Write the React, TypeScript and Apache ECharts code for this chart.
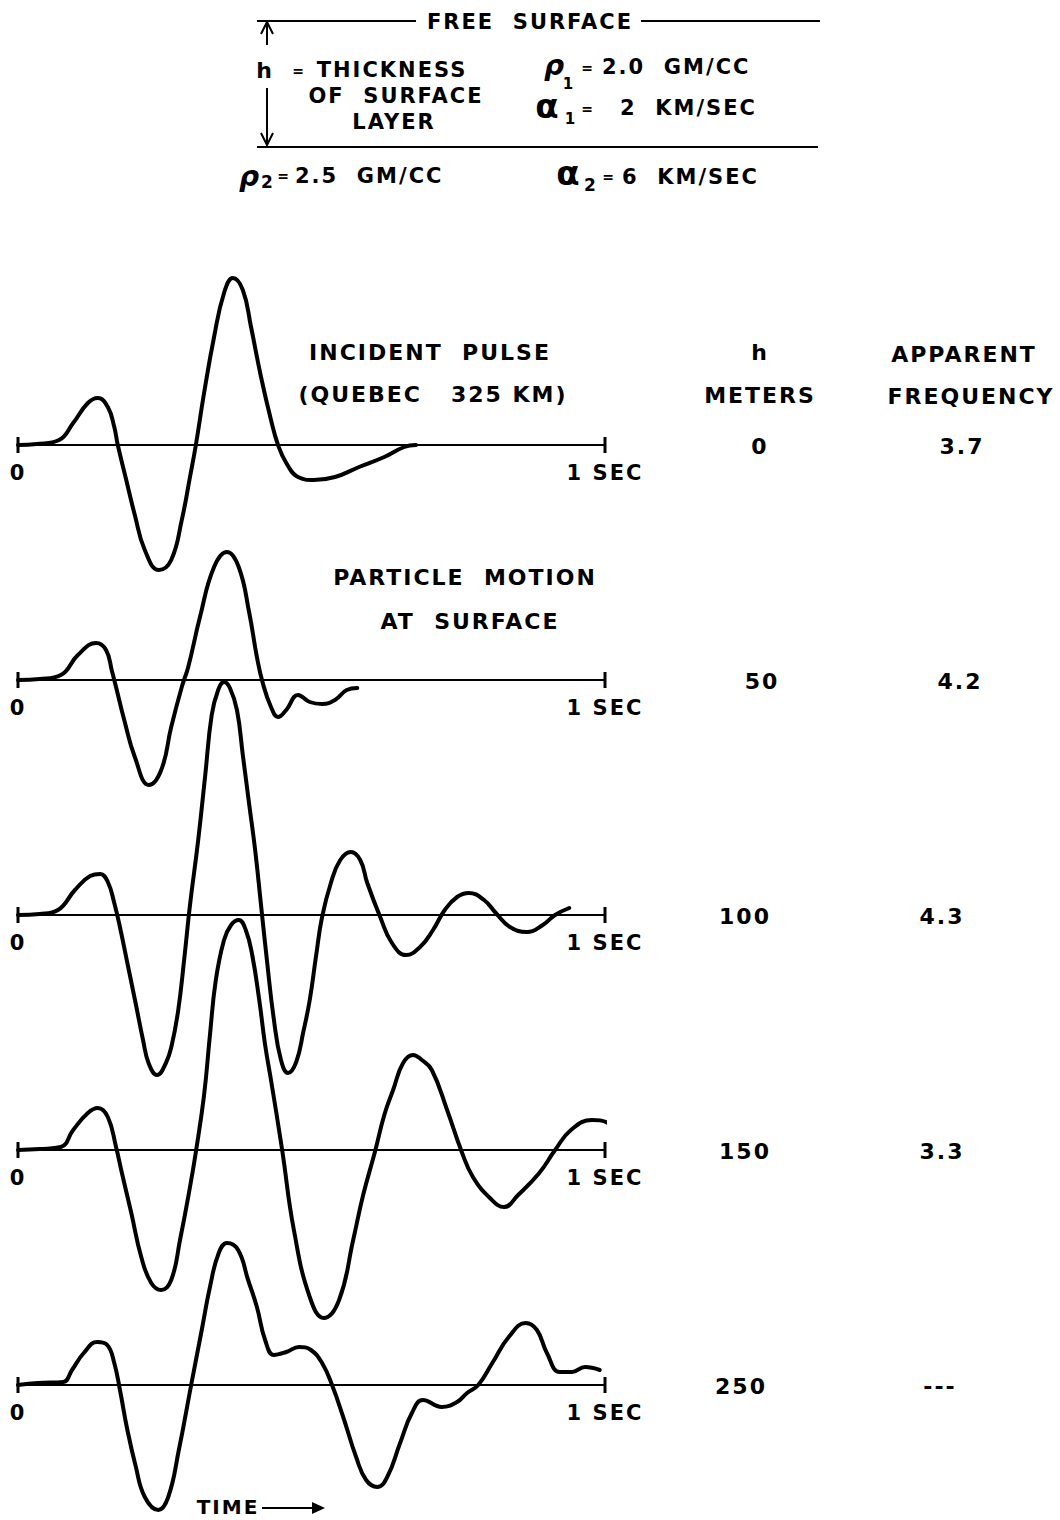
import React, { useEffect, useRef } from "react";
import * as echarts from "echarts";

// ---------------- DATA ----------------
// time in seconds, amplitude in arbitrary units
const timeTicks = [0, 1];
const tickLabels = ["0", "1 SEC"];
const thicknessMeters = ["0", "50", "100", "150", "250"];
const apparentFrequency = ["3.7", "4.2", "4.3", "3.3", "---"];

const incidentPulse: [number, number][] = [
  [0, 0], [0.032, 0.1], [0.07, 0.5], [0.094, 2.2], [0.119, 4.2], [0.136, 4.7], [0.153, 3.8],
  [0.164, 1.8], [0.17, 0], [0.184, -3.4], [0.199, -7.0], [0.216, -10.5], [0.24, -12.5],
  [0.261, -11.5], [0.279, -7.5], [0.293, -3.2], [0.303, 0], [0.317, 5.2], [0.334, 10.8],
  [0.351, 15.2], [0.366, 16.7], [0.383, 15.5], [0.397, 11.8], [0.414, 6.8], [0.431, 2.5],
  [0.443, 0], [0.457, -1.8], [0.477, -3.2], [0.504, -3.5], [0.54, -3.2], [0.581, -2.2],
  [0.624, -1.2], [0.658, -0.2], [0.678, 0],
];

const surface50: [number, number][] = [
  [0, 0], [0.037, 0.1], [0.073, 0.5], [0.102, 2.5], [0.133, 3.7], [0.15, 3.0], [0.16, 0.9],
  [0.167, -0.7], [0.181, -4.0], [0.199, -7.7], [0.223, -10.5], [0.244, -9.0], [0.261, -4.7],
  [0.279, -0.7], [0.29, 1.3], [0.31, 6.3], [0.334, 11.3], [0.356, 12.8], [0.376, 11.3],
  [0.394, 6.7], [0.407, 2.3], [0.417, -0.3], [0.431, -2.7], [0.443, -3.7], [0.457, -3.0],
  [0.477, -1.5], [0.497, -2.2], [0.518, -2.4], [0.54, -2.0], [0.56, -1.0], [0.578, -0.8],
];

const surface100: [number, number][] = [
  [0, 0], [0.037, 0.1], [0.068, 0.5], [0.097, 2.5], [0.123, 3.9], [0.14, 4.1], [0.153, 3.3],
  [0.164, 1.2], [0.174, -1.3], [0.187, -5.0], [0.201, -9.0], [0.213, -12.5], [0.223, -14.9],
  [0.237, -16.0], [0.252, -14.8], [0.262, -13.0], [0.273, -9.5], [0.283, -4.5], [0.293, 1.0],
  [0.307, 7.5], [0.319, 14.0], [0.33, 20.0], [0.341, 22.5], [0.351, 23.3], [0.361, 22.7],
  [0.373, 20.5], [0.383, 16.0], [0.394, 11.0], [0.404, 6.5], [0.414, 1.0], [0.424, -4.5],
  [0.436, -10.5], [0.448, -14.5], [0.46, -15.8], [0.474, -14.7], [0.486, -11.7], [0.497, -8.5],
  [0.508, -4.0], [0.518, -0.2], [0.533, 3.2], [0.549, 5.5], [0.567, 6.3], [0.583, 5.5],
  [0.595, 3.2], [0.617, -0.2], [0.637, -2.8], [0.661, -4.0], [0.685, -3.2], [0.707, -1.5],
  [0.727, 0.5], [0.748, 1.8], [0.768, 2.2], [0.794, 1.5], [0.814, 0.2], [0.838, -1.2],
  [0.867, -1.7], [0.894, -1.0], [0.915, 0], [0.939, 0.7],
];

const surface150: [number, number][] = [
  [0, 0], [0.037, 0.1], [0.073, 0.3], [0.094, 2.0], [0.119, 3.7], [0.136, 4.2], [0.153, 3.3],
  [0.167, 0.3], [0.177, -2.3], [0.193, -6.3], [0.21, -10.7], [0.227, -13.3], [0.244, -14.0],
  [0.261, -13.0], [0.276, -9.0], [0.293, -3.7], [0.303, -0.2], [0.317, 5.5], [0.327, 11.5],
  [0.337, 17.0], [0.351, 21.0], [0.363, 22.5], [0.376, 23.0], [0.388, 22.0], [0.399, 19.5],
  [0.411, 15.0], [0.421, 10.5], [0.431, 7.0], [0.45, 0], [0.47, -8.0], [0.497, -14.7],
  [0.521, -16.8], [0.547, -15.0], [0.571, -9.0], [0.588, -4.5], [0.608, -0.2], [0.624, 3.5],
  [0.639, 6.0], [0.656, 8.7], [0.673, 9.5], [0.688, 9.0], [0.705, 8.0], [0.731, 4.0],
  [0.756, -0.2], [0.775, -2.7], [0.804, -4.8], [0.828, -5.7], [0.852, -4.5], [0.888, -2.3],
  [0.915, 0], [0.942, 2.0], [0.978, 3.0], [1.005, 2.7], [1.019, 1.8],
];

const surface250: [number, number][] = [
  [0, 0], [0.034, 0.2], [0.077, 0.3], [0.092, 1.5], [0.112, 3.2], [0.135, 4.3], [0.152, 4.0],
  [0.164, 2.2], [0.174, -0.6], [0.186, -4.4], [0.2, -8.0], [0.216, -11.2], [0.239, -12.5],
  [0.256, -11.2], [0.274, -6.5], [0.295, 0], [0.313, 5.5], [0.327, 9.8], [0.342, 13.2],
  [0.356, 14.2], [0.375, 13.5], [0.392, 10.5], [0.407, 7.8], [0.421, 4.5], [0.436, 3.0],
  [0.457, 3.3], [0.479, 3.8], [0.499, 3.5], [0.518, 2.2], [0.535, 0], [0.554, -3.2],
  [0.576, -7.2], [0.593, -9.5], [0.612, -10.2], [0.629, -9.2], [0.651, -5.8], [0.671, -2.8],
  [0.69, -1.5], [0.722, -2.2], [0.748, -1.7], [0.765, -0.8], [0.784, 0], [0.808, 2.2],
  [0.836, 4.8], [0.865, 6.2], [0.884, 5.5], [0.901, 3.2], [0.923, 1.3], [0.944, 1.3],
  [0.966, 1.8], [0.991, 1.5],
];

const traces = [incidentPulse, surface50, surface100, surface150, surface250];

// ---------------- LAYOUT ----------------
const W = 1060;
const H = 1520;
const FONT = "'DejaVu Sans', sans-serif";
const BASELINES = [445, 680, 915, 1150, 1385];
const AXIS_LEFT = 18;
const AXIS_RIGHT = 605;
const UP_RANGE = 25; // amplitude units shown above the baseline inside the grid
const UP_PX = 250; // pixels above the baseline
const H_LABEL_X = [760, 762, 745, 745, 741];
const F_LABEL_X = [962, 960, 942, 942, 940];

function txt(
  text: string,
  x: number,
  y: number,
  size: number,
  align: string = "center",
  extra: any = {}
) {
  return {
    type: "text",
    x,
    y,
    silent: true,
    style: {
      text,
      fill: "#000",
      fontSize: size,
      fontWeight: "bold",
      fontFamily: FONT,
      align,
      verticalAlign: "middle",
      textAlign: align,
      textVerticalAlign: "middle",
      ...extra,
    },
  };
}

function line(x1: number, y1: number, x2: number, y2: number, w = 2) {
  return {
    type: "line",
    silent: true,
    shape: { x1, y1, x2, y2 },
    style: { stroke: "#000", lineWidth: w },
  };
}

function head(points: number[][]) {
  return {
    type: "polyline",
    silent: true,
    shape: { points },
    style: { stroke: "#000", lineWidth: 2, fill: null },
  };
}

function buildOption() {
  const grid: any[] = [];
  const xAxis: any[] = [];
  const yAxis: any[] = [];
  const series: any[] = [];

  traces.forEach((data, i) => {
    const b = BASELINES[i];
    grid.push({
      left: AXIS_LEFT,
      width: AXIS_RIGHT - AXIS_LEFT,
      top: b - UP_PX,
      height: UP_PX,
      containLabel: false,
    });
    xAxis.push({
      type: "value",
      gridIndex: i,
      position: "bottom",
      min: timeTicks[0],
      max: timeTicks[1],
      interval: 1,
      axisLine: {
        show: true,
        onZero: false,
        symbol: ["rect", "rect"],
        symbolSize: [16, 3],
        lineStyle: { color: "#000", width: 2 },
      },
      axisTick: { show: false },
      splitLine: { show: false },
      axisLabel: {
        show: true,
        showMinLabel: true,
        showMaxLabel: true,
        margin: 17,
        color: "#000",
        fontSize: 21,
        fontWeight: "bold",
        fontFamily: FONT,
        formatter: (v: number) => {
          const k = timeTicks.indexOf(v);
          return k >= 0 ? tickLabels[k] : "";
        },
      },
    });
    yAxis.push({
      type: "value",
      gridIndex: i,
      min: 0,
      max: UP_RANGE,
      show: false,
    });
    series.push({
      type: "line",
      xAxisIndex: i,
      yAxisIndex: i,
      data,
      smooth: 0.45,
      symbol: "none",
      showSymbol: false,
      clip: false,
      silent: true,
      z: 5,
      lineStyle: { color: "#000", width: 4, cap: "round", join: "round" },
    });
  });

  const g: any[] = [];
  // ---- header diagram ----
  g.push(line(257, 21, 416, 21));
  g.push(line(641, 21, 820, 21));
  g.push(txt("FREE  SURFACE", 530, 22, 21));
  g.push(line(257, 147, 818, 147));
  g.push(line(267, 22, 267, 45));
  g.push(head([[261, 34], [267, 22], [273, 34]]));
  g.push(line(267, 88, 267, 145));
  g.push(head([[261, 133], [267, 145], [273, 133]]));
  g.push(txt("h", 265, 70, 22));
  g.push(txt("=", 299, 71, 14));
  g.push(txt("THICKNESS", 392, 70, 21));
  g.push(txt("OF  SURFACE", 396, 96, 21));
  g.push(txt("LAYER", 394, 122, 21));

  g.push(txt("ρ", 555, 65, 28, "center", { fontStyle: "italic" }));
  g.push(txt("1", 569, 84, 15));
  g.push(txt("=", 588, 68, 14));
  g.push(txt("2.0  GM/CC", 602, 67, 21, "left"));

  g.push(txt("α", 548, 106, 34));
  g.push(txt("1", 571, 119, 15));
  g.push(txt("=", 588, 109, 14));
  g.push(txt("2  KM/SEC", 620, 108, 21, "left"));

  g.push(txt("ρ", 250, 176, 28, "center", { fontStyle: "italic" }));
  g.push(txt("2", 268, 182, 17));
  g.push(txt("=", 284, 176, 14));
  g.push(txt("2.5  GM/CC", 295, 176, 21, "left"));

  g.push(txt("α", 569, 173, 34));
  g.push(txt("2", 591, 185, 17));
  g.push(txt("=", 609, 177, 14));
  g.push(txt("6  KM/SEC", 622, 177, 21, "left"));

  // ---- plot labels ----
  g.push(txt("INCIDENT  PULSE", 430, 352, 22));
  g.push(txt("(QUEBEC   325 KM)", 433, 394, 22));
  g.push(txt("PARTICLE  MOTION", 465, 577, 22));
  g.push(txt("AT  SURFACE", 470, 621, 22));
  g.push(txt("h", 760, 352, 22));
  g.push(txt("METERS", 760, 395, 22));
  g.push(txt("APPARENT", 964, 354, 22));
  g.push(txt("FREQUENCY", 971, 396, 22));
  BASELINES.forEach((b, i) => {
    g.push(txt(thicknessMeters[i], H_LABEL_X[i], b + 1, 22));
    g.push(txt(apparentFrequency[i], F_LABEL_X[i], b + 1, 22));
  });
  g.push(txt("TIME", 228, 1507, 20));
  g.push(line(262, 1508, 322, 1508));
  g.push({
    type: "polygon",
    silent: true,
    shape: { points: [[312, 1502], [325, 1508], [312, 1514]] },
    style: { fill: "#000" },
  });

  return {
    animation: false,
    backgroundColor: "#fff",
    grid,
    xAxis,
    yAxis,
    series,
    graphic: { elements: g },
  };
}

export default function App() {
  const ref = useRef<HTMLDivElement | null>(null);
  useEffect(() => {
    if (!ref.current) return;
    const chart = echarts.init(ref.current, null, { renderer: "svg", width: W, height: H });
    chart.setOption(buildOption() as any);
    return () => chart.dispose();
  }, []);
  return (
    <>
      <style>{`.fig text { letter-spacing: 2px; }`}</style>
      <div
        ref={ref}
        className="fig"
        style={{ position: "absolute", left: 0, top: 0, width: W, height: H, background: "#fff" }}
      />
    </>
  );
}
